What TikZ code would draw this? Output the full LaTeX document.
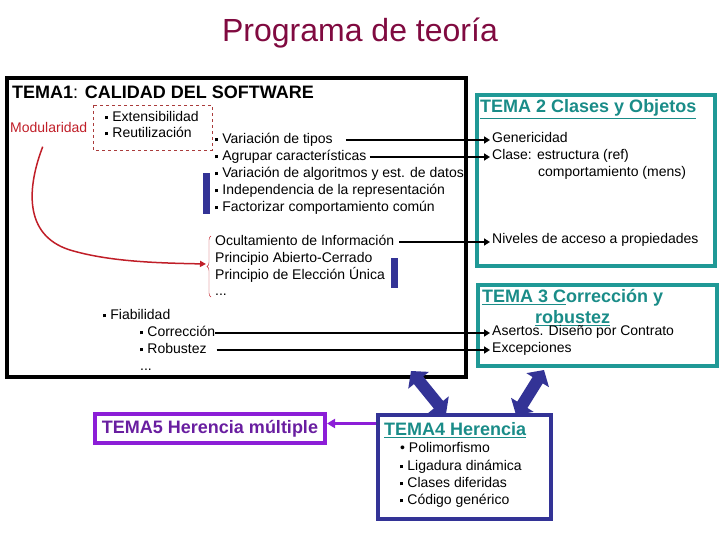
\documentclass[tikz,border=0pt]{standalone}
\usepackage{fontspec}
\setmainfont{Liberation Sans}
\usetikzlibrary{arrows.meta, decorations.pathreplacing, calc}

\definecolor{titlered}{RGB}{128,10,64}
\definecolor{temateal}{RGB}{32,153,150}
\definecolor{tealtxt}{RGB}{26,140,136}
\definecolor{navybar}{RGB}{51,51,150}
\definecolor{purpbox}{RGB}{140,30,215}
\definecolor{purptxt}{RGB}{105,30,160}
\definecolor{modred}{RGB}{192,30,40}
\definecolor{dashred}{RGB}{170,60,60}

\newcommand{\sq}{\raisebox{0.28ex}{\rule{3.2pt}{3.2pt}}\hspace{4pt}}

\begin{document}
\begin{tikzpicture}[x=1pt, y=-1pt,
    txt/.style={font=\fontsize{14}{17}\selectfont, inner sep=0pt, anchor=west, text height=10pt, text depth=3pt},
    head/.style={font=\fontsize{18}{21}\selectfont\bfseries, inner sep=0pt, anchor=west, text=tealtxt},
    temabox/.style={draw, line width=4pt, anchor=north west, inner sep=0pt},
    link/.style={line width=2pt, -{Triangle[width=7pt,length=6pt]}},
    twoway/.style={navybar, line width=12pt, {Triangle[width=26pt,length=12pt]}-{Triangle[width=26pt,length=12pt]}}]
    \useasboundingbox (0,0) rectangle (720,540);

    \node[font=\fontsize{32}{36}\selectfont, text=titlered, inner sep=0pt] (titulo) at (360,33) {Programa de teoría};

    % the boxes
    \node[temabox, minimum width=459pt, minimum height=299pt] (t1) at (5,76) {};
    \node[temabox, draw=temateal, minimum width=238pt, minimum height=171pt] (t2) at (475,93) {};
    \node[temabox, draw=temateal, minimum width=239pt, minimum height=81pt] (t3) at (476,283) {};
    \node[temabox, draw=navybar, minimum width=173pt, minimum height=104pt] (t4) at (376,413) {};
    \node[temabox, draw=purpbox, minimum width=230pt, minimum height=29pt] (t5) at (93,412) {};

    % TEMA1
    \node[font=\fontsize{18}{21}\selectfont, inner sep=0pt, anchor=west] (h1) at (12,92) {\textbf{TEMA1}: \textbf{CALIDAD DEL SOFTWARE}};
    \node[txt, text=modred] (modul) at (10,129) {Modularidad};
    \node[txt] (ext) at (105,118) {\sq Extensibilidad};
    \node[txt] (reu) at (105,134) {\sq Reutilización};
    \draw[dashred, dashed] (93,105) rectangle (212,150);

    \node[txt] (vt) at (215,140) {\sq Variación de tipos};
    \node[txt] (ac) at (215,157) {\sq Agrupar características};
    \node[txt] (va) at (215,174) {\sq Variación de algoritmos y est. de datos};
    \node[txt] (ir) at (215,191) {\sq Independencia de la representación};
    \node[txt] (fc) at (215,208) {\sq Factorizar comportamiento común};
    \fill[navybar] (203,173) rectangle (210,214);

    \node[txt] (oc) at (215,242) {Ocultamiento de Información};
    \node[txt] (pac) at (215,259) {Principio Abierto-Cerrado};
    \node[txt] (peu) at (215,276) {Principio de Elección Única};
    \node[txt] (pd) at (215,292) {...};
    \fill[navybar] (391,258) rectangle (398,288);
    \draw[modred, thin, decorate, decoration={brace, amplitude=4pt}] (211,297) -- (211,236);
    \coordinate (brtip) at (206,264);

    \draw[modred, line width=1.5pt, -{Triangle[width=6pt,length=6pt]}] ([xshift=-6pt,yshift=-11pt]modul.south) .. controls (28,185) and (22,235) .. (70,250) .. controls (110,262) and (160,263) .. (brtip);

    \node[txt] (fia) at (103,316) {\sq Fiabilidad};
    \node[txt] (cor) at (140,333) {\sq Corrección};
    \node[txt] (rob) at (140,350) {\sq Robustez};
    \node[txt] (fd) at (140,367) {...};

    % TEMA2
    \node[head] (h2) at (480,109) {\underline{TEMA 2 Clases y Objetos}};
    \node[txt] (gen) at (492,139) {Genericidad};
    \node[txt] (cla) at (492,156) {Clase: estructura (ref)};
    \node[txt] (com) at (538,173) {comportamiento (mens)};
    \node[txt] (niv) at (492,240) {Niveles de acceso a propiedades};

    % TEMA3
    \node[head, align=center, anchor=north west] (h3) at (482,289) {\underline{TEMA 3 C}orrección y\\\underline{robustez}};
    \node[txt] (ase) at (492,332) {Asertos. Diseño por Contrato};
    \node[txt] (exc) at (492,349) {Excepciones};

    % TEMA4
    \node[head] (h4) at (384,430) {\underline{TEMA4 Herencia}};
    \node[txt] (pol) at (400,449) {\textbullet\ Polimorfismo};
    \node[txt] (lig) at (400,467) {\sq Ligadura dinámica};
    \node[txt] (cdi) at (400,484) {\sq Clases diferidas};
    \node[txt] (cge) at (400,501) {\sq Código genérico};

    % TEMA5
    \node[font=\fontsize{18}{21}\selectfont\bfseries, text=purptxt, inner sep=0pt] (h5) at (t5.center) {TEMA5 Herencia múltiple};

    % links
    \draw[link, shorten <=13pt, shorten >=2pt] (vt.east) -- (vt.east -| gen.west);
    \draw[link, shorten <=3pt, shorten >=2pt] (ac.east) -- (ac.east -| cla.west);
    \draw[link, shorten <=5pt, shorten >=2pt] (oc.east) -- (oc.east -| niv.west);
    \draw[link, shorten >=2pt] (cor.east) -- (cor.east -| ase.west);
    \draw[link, shorten <=10pt, shorten >=2pt] (rob.east) -- (rob.east -| exc.west);

    \draw[twoway] ($(t1.south east)+(-57,-8)$) -- ($(t4.north west)+(70,1)$);
    \draw[twoway] ($(t3.south east)+(-175,2)$) -- ($(t4.north east)+(-37,2)$);
    \draw[purpbox, line width=3pt, -{Triangle[width=9pt,length=8pt]}] ($(t5.east -| t4.west)+(0,-5)$) -- ($(t5.east)+(0,-5)$);
\end{tikzpicture}
\end{document}
